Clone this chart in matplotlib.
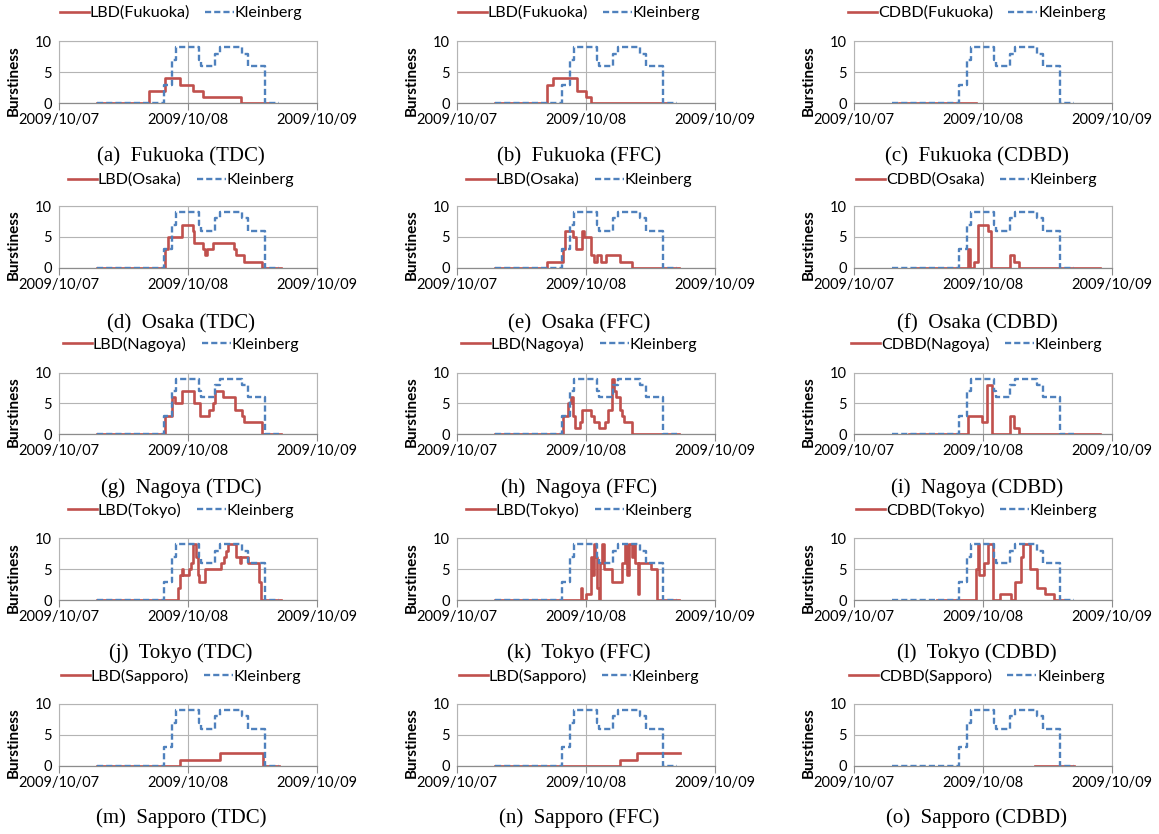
import numpy as np
import matplotlib
matplotlib.use("Agg")
import matplotlib.pyplot as plt
import matplotlib.dates as mdates

# ---------------- data (hours after 2009/10/07 00:00, step values) ----------------
kleinberg_t = [7, 19.5, 21, 21.8, 26, 26.5, 29, 30, 34, 35.2, 38.3, 41]
kleinberg_v = [0, 3, 7, 9, 7, 6, 8, 9, 8, 6, 0, 0]

fukuoka_tdc_t = [7, 16.8, 19.7, 22.6, 24.9, 26.8, 33.9, 39.5]
fukuoka_tdc_v = [0, 2, 4, 3, 2, 1, 0, 0]
fukuoka_ffc_t = [7, 16.7, 17.9, 22.3, 24.0, 25.0, 39.6]
fukuoka_ffc_v = [0, 3, 4, 2, 1, 0, 0]
fukuoka_cdbd_t = [8.3, 22.7]
fukuoka_cdbd_v = [0, 0]

osaka_tdc_t = [7, 19.8, 20.2, 22.9, 24.9, 25.2, 26.8, 27.2, 27.5, 28.6, 32.5, 32.9, 34.5, 37.7, 41.3]
osaka_tdc_v = [0, 3, 5, 7, 6, 4, 3, 2, 3, 4, 3, 2, 1, 0, 0]
osaka_ffc_t = [7, 16.7, 19.8, 20.1, 21.5, 22.1, 23.2, 23.7, 25.0, 25.5, 26.0, 26.7, 27.8, 30.3, 32.6, 41.3]
osaka_ffc_v = [0, 1, 3, 6, 5, 3, 6, 5, 2, 1, 2, 1, 2, 1, 0, 0]
osaka_cdbd_t = [11.5, 21.2, 21.5, 22.3, 23.0, 25.0, 25.5, 29.0, 29.7, 30.7, 45.8]
osaka_cdbd_v = [0, 3, 0, 1, 7, 6, 0, 2, 1, 0, 0]

nagoya_tdc_t = [7, 19.8, 21.1, 21.5, 22.9, 25.2, 26.3, 27.9, 28.6, 29.1, 30.6, 32.7, 34.1, 34.5, 37.7, 41.3]
nagoya_tdc_v = [0, 3, 6, 5, 7, 5, 3, 4, 5, 7, 6, 4, 3, 2, 0, 0]
nagoya_ffc_t = [7, 19.8, 20.7, 21.3, 21.6, 22.0, 22.9, 23.3, 25.0, 25.5, 26.5, 27.5, 28.0, 28.9, 29.3, 29.5, 30.3, 30.7, 31.1, 32.6, 41.3]
nagoya_ffc_v = [0, 3, 5, 6, 3, 1, 2, 4, 3, 2, 1, 2, 4, 9, 7, 6, 4, 3, 2, 0, 0]
nagoya_cdbd_t = [10.3, 21.3, 23.8, 24.7, 25.6, 29.0, 29.7, 30.7, 45.8]
nagoya_cdbd_v = [0, 3, 2, 8, 0, 3, 1, 0, 0]

tokyo_tdc_t = [7, 22.1, 22.6, 22.9, 23.1, 24.2, 24.6, 24.9, 25.5, 25.8, 26.1, 27.1, 30.2, 30.7, 31.1, 31.4, 32.9, 33.6, 33.9, 35.1, 37.2, 37.5, 41.3]
tokyo_tdc_v = [0, 2, 4, 5, 4, 5, 6, 9, 7, 4, 3, 5, 6, 7, 8, 9, 7, 6, 7, 6, 3, 0, 0]
tokyo_ffc_t = [7, 23.1, 23.3, 24.0, 24.9, 25.1, 25.4, 25.7, 26.0, 26.4, 26.6, 27.0, 27.3, 28.8, 30.7, 31.2, 31.7, 32.0, 32.5, 32.7, 33.1, 33.7, 33.9, 36.1, 37.3, 41.3]
tokyo_ffc_v = [0, 2, 0, 1, 7, 4, 9, 7, 2, 0, 6, 9, 5, 3, 6, 9, 4, 9, 7, 9, 6, 1, 6, 5, 0, 0]
tokyo_cdbd_t = [15.5, 22.7, 23.1, 23.3, 24.2, 24.9, 25.8, 27.2, 29.2, 29.9, 31.1, 31.4, 32.8, 34.1, 35.5, 37.2, 39.1]
tokyo_cdbd_v = [0, 5, 9, 4, 6, 9, 0, 1, 0, 3, 7, 9, 5, 2, 1, 0, 0]

sapporo_tdc_t = [7, 22.5, 30, 38, 41]
sapporo_tdc_v = [0, 1, 2, 0, 0]
sapporo_ffc_t = [7, 30.3, 33.5, 41.5]
sapporo_ffc_v = [0, 1, 2, 2]
sapporo_cdbd_t = [33.6, 41]
sapporo_cdbd_v = [0, 0]

cities = ["Fukuoka", "Osaka", "Nagoya", "Tokyo", "Sapporo"]
methods = ["TDC", "FFC", "CDBD"]
series_names = ["LBD", "LBD", "CDBD"]
letters = "abcdefghijklmno"
x_tick_labels = ["2009/10/07", "2009/10/08", "2009/10/09"]
y_ticks = [0, 5, 10]

panel_data = [
    [(fukuoka_tdc_t, fukuoka_tdc_v), (fukuoka_ffc_t, fukuoka_ffc_v), (fukuoka_cdbd_t, fukuoka_cdbd_v)],
    [(osaka_tdc_t, osaka_tdc_v), (osaka_ffc_t, osaka_ffc_v), (osaka_cdbd_t, osaka_cdbd_v)],
    [(nagoya_tdc_t, nagoya_tdc_v), (nagoya_ffc_t, nagoya_ffc_v), (nagoya_cdbd_t, nagoya_cdbd_v)],
    [(tokyo_tdc_t, tokyo_tdc_v), (tokyo_ffc_t, tokyo_ffc_v), (tokyo_cdbd_t, tokyo_cdbd_v)],
    [(sapporo_tdc_t, sapporo_tdc_v), (sapporo_ffc_t, sapporo_ffc_v), (sapporo_cdbd_t, sapporo_cdbd_v)],
]

# ---------------- layout ----------------
W, H = 1159, 834
base = np.datetime64("2009-10-07T00:00")


def to_dt(hours):
    return base + (np.asarray(hours, dtype=float) * 60).round().astype(int).astype("timedelta64[m]")


x_ticks = [np.datetime64(d.replace("/", "-")) for d in x_tick_labels]

col_left = [59, 457, 854]
col_width = 258
col_center = [181, 579, 977]
row_top = [41.3, 206, 372.5, 538.3, 704]
row_h = 61.8
legend_y = [13, 180, 344.5, 510, 676]
caption_y = [156.5, 324, 488, 653, 818]

red = "#C0504D"
blue = "#4F81BD"
grid_c = "#B4B4B4"
axis_c = "#8C8C8C"

fig = plt.figure(figsize=(W / 100, H / 100), dpi=100)

for r in range(5):
    for c in range(3):
        ax = fig.add_axes([col_left[c] / W, 1 - (row_top[r] + row_h) / H, col_width / W, row_h / H])
        t, v = panel_data[r][c]
        label = f"{series_names[c]}({cities[r]})"
        l1, = ax.plot(to_dt(t), v, drawstyle="steps-post", color=red, lw=1.9, label=label, zorder=3)
        l2, = ax.plot(to_dt(kleinberg_t), kleinberg_v, drawstyle="steps-post", color=blue, lw=1.7,
                      dashes=(2.6, 1.3), label="Kleinberg", zorder=4)
        ax.set_xlim(x_ticks[0], x_ticks[-1])
        ax.set_ylim(0, 10)
        ax.set_xticks(x_ticks)
        ax.xaxis.set_major_formatter(mdates.DateFormatter("%Y/%m/%d"))
        ax.set_yticks(y_ticks)
        for lab in ax.get_xticklabels() + ax.get_yticklabels():
            lab.set_fontfamily("Lato")
            lab.set_fontsize(10.5)
            lab.set_color("black")
        ax.tick_params(axis="x", direction="out", length=5, width=0.8, color=axis_c, pad=2)
        ax.tick_params(axis="y", length=0, pad=5)
        ax.grid(True, color=grid_c, lw=0.8)
        ax.set_axisbelow(True)
        for s in ["left", "top", "right"]:
            ax.spines[s].set_color(grid_c)
            ax.spines[s].set_linewidth(0.8)
        ax.spines["bottom"].set_color(axis_c)
        ax.spines["bottom"].set_linewidth(0.9)
        ax.set_ylabel("Burstiness", fontfamily="Lato", fontweight="bold", fontsize=11)
        ax.yaxis.set_label_coords(-0.15, 0.37)

        fig.legend([l1, l2], [label, "Kleinberg"], loc="center",
                   bbox_to_anchor=(col_center[c] / W, 1 - legend_y[r] / H), ncol=2, frameon=False,
                   handlelength=1.8, handletextpad=0.05, columnspacing=0.95, borderaxespad=0,
                   prop={"family": "Lato", "size": 11.6})

        cap = f"({letters[r * 3 + c]})  {cities[r]} ({methods[c]})"
        fig.text(col_center[c] / W, 1 - caption_y[r] / H, cap, ha="center", va="center",
                 fontfamily="Liberation Serif", fontsize=15)

fig.savefig("out.png", dpi=100)
